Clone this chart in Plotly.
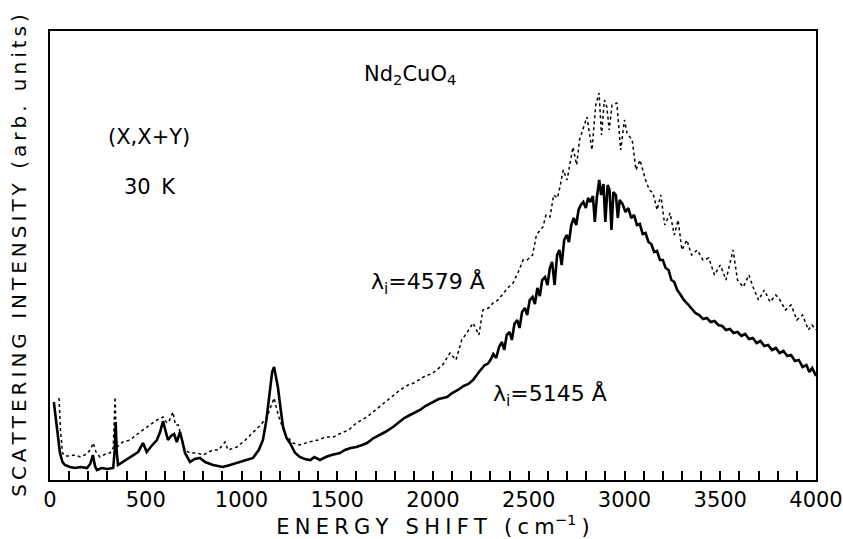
import plotly.graph_objects as go

# ---- data (intensity in arbitrary units) ----
energy_5145 = [20, 35, 52, 65, 78, 104, 130, 160, 193, 210, 224, 235, 245, 270, 300, 330, 338, 343, 348, 355,
               380, 400, 430, 460, 486, 505, 530, 558, 575, 590, 605, 616, 632, 648, 662, 679, 692, 705, 731, 755,
               783, 810, 851, 880, 903, 940, 976, 1020, 1060, 1090, 1112, 1130, 1149, 1160, 1170, 1180, 1190, 1205,
               1217, 1235, 1253, 1280, 1305, 1330, 1360, 1380, 1410, 1440, 1470, 1514, 1540, 1570, 1600, 1630, 1655,
               1690, 1720, 1750, 1791, 1820, 1850, 1880, 1910, 1932, 1960, 2000, 2030, 2073, 2100, 2130, 2160, 2185,
               2209, 2240, 2270, 2285,
               2300, 2315, 2330, 2345, 2360, 2372, 2385, 2400, 2412, 2425, 2440, 2452, 2465, 2480, 2492, 2505, 2520,
               2532, 2545, 2558, 2570, 2585, 2598, 2610, 2622, 2635, 2648, 2660, 2672, 2685, 2698, 2710, 2722, 2735,
               2748, 2760, 2772, 2785, 2798, 2810, 2822, 2835, 2845, 2856, 2868, 2878, 2890, 2900, 2912, 2922, 2932,
               2942, 2955, 2965, 2975, 2990, 3005, 3020, 3035, 3050, 3065, 3080, 3095, 3110, 3125, 3140, 3155, 3170,
               3185, 3200, 3215, 3230, 3245, 3260, 3275, 3290, 3310, 3330, 3350, 3370, 3390, 3410, 3430, 3450, 3470,
               3490, 3510, 3530, 3550, 3570, 3590, 3610, 3630, 3650, 3670, 3690, 3710, 3730, 3750, 3770, 3790, 3810,
               3830, 3850, 3870, 3890, 3910, 3930, 3950, 3965, 3980, 4000]
intensity_5145 = [78, 55, 27, 18, 15, 13, 12, 13, 12, 16, 25, 14, 10, 12, 11, 12, 30, 58, 30, 15,
                  18, 20, 24, 28, 37, 28, 34, 40, 48, 59, 48, 40, 44, 46, 38, 48, 38, 27, 18, 21,
                  22, 18, 15, 14, 13, 15, 17, 20, 22, 30, 40, 60, 93, 108, 113, 104, 93, 70,
                  53, 42, 37, 27, 23, 21, 20, 23, 20, 23, 25, 27, 30, 32, 33, 35, 37,
                  42, 45, 48, 53, 57, 62, 65, 68, 70, 74, 78, 81, 83, 87, 90, 94, 96,
                  100, 108, 115, 116,
                  120, 126, 122, 133, 138, 130, 145, 148, 140, 156, 160, 152, 168, 172, 165, 180, 183,
                  176, 192, 184, 200, 203, 195, 212, 218, 195, 225, 230, 215, 240, 245, 238, 255, 262,
                  255, 270, 275, 278, 272, 282, 278, 284, 258, 283, 300, 285, 296, 258, 295, 290, 250,
                  288, 285, 262, 280, 276, 268, 272, 262, 265, 255, 256, 246, 247, 238, 236, 228, 229,
                  220, 220, 212, 210, 200, 198, 190, 186, 180, 176, 172, 167, 165, 161, 162, 158, 159,
                  155, 154, 150, 151, 147, 148, 144, 146, 141, 142, 137, 139, 134, 135, 130, 132, 127,
                  129, 124, 125, 119, 120, 113, 115, 108, 112, 104]

energy_4579 = [47, 55, 65, 78, 100, 130, 160, 190, 210, 226, 240, 261, 290, 313, 330, 340, 345, 350, 380, 418,
               450, 486, 520, 558, 590, 610, 625, 642, 655, 670, 690, 705, 730, 768, 800, 830, 851, 880, 914, 930,
               976, 1020, 1060, 1100, 1133, 1155, 1170, 1185, 1200, 1230, 1269, 1305, 1350, 1400, 1440, 1480, 1520,
               1560, 1600, 1655, 1700, 1750, 1800, 1828, 1870, 1900, 1950, 2000, 2050, 2089, 2120, 2150, 2180, 2209,
               2240, 2260, 2290, 2313, 2340, 2360, 2390, 2418, 2450, 2470, 2491, 2520, 2540, 2560, 2574, 2590, 2611,
               2630, 2650, 2663, 2680, 2700, 2731, 2750, 2765, 2790, 2804, 2830, 2850, 2867, 2880, 2895, 2908, 2920,
               2935, 2960, 2980, 3000, 3013, 3040, 3060, 3081, 3110, 3130, 3149, 3170, 3190, 3210, 3238, 3260, 3280,
               3300, 3326, 3350, 3380, 3410, 3440, 3470, 3500, 3530, 3567, 3590, 3620, 3650, 3671, 3700, 3730, 3760,
               3790, 3812, 3840, 3870, 3900, 3930, 3960, 3979, 4000]
intensity_4579 = [82, 50, 27, 24, 24, 25, 23, 26, 30, 37, 28, 23, 26, 27, 32, 83, 45, 33, 38, 40,
                  45, 50, 55, 60, 63, 57, 60, 68, 55, 55, 40, 30, 27, 27, 25, 28, 30, 30, 38, 30,
                  33, 40, 47, 55, 63, 75, 82, 70, 60, 45, 37, 35, 38, 40, 43, 43, 47,
                  50, 57, 63, 70, 78, 85, 90, 95, 97, 103, 107, 115, 127, 120, 140, 148, 157,
                  145, 170, 172, 177, 180, 185, 192, 197, 210, 220, 220, 225, 245, 250, 253, 265, 263,
                  285, 282, 293, 310, 300, 333, 315, 340, 355, 363, 330, 375, 387, 345, 380, 373, 350,
                  375, 377, 330, 360, 347, 340, 310, 320, 300, 290, 287, 270, 285, 255, 267, 245, 260,
                  230, 240, 225, 230, 220, 222, 205, 215, 200, 230, 200, 193, 205, 193, 180, 190, 178,
                  185, 180, 170, 175, 160, 165, 150, 155, 150]

x_tick_values = [0, 500, 1000, 1500, 2000, 2500, 3000, 3500, 4000]
x_tick_labels = ["0", "500", "1000", "1500", "2000", "2500", "3000", "3500", "4000"]

x_title_main = "ENERGY SHIFT (cm"
y_title = "SCATTERING INTENSITY (arb. units)"

FONT = "DejaVu Sans"
W, H = 843, 539
ML, MR, MT, MB = 50, 27, 31, 59

def spaced(s, sp):
    return sp.join(list(s))

fig = go.Figure()
fig.add_trace(go.Scatter(x=energy_4579, y=intensity_4579, mode="lines",
                         line=dict(color="black", width=1.5, dash="dot"), showlegend=False))
fig.add_trace(go.Scatter(x=energy_5145, y=intensity_5145, mode="lines",
                         line=dict(color="black", width=2.6), showlegend=False))

xt = spaced(x_title_main, "\u2005") + "<sup>−1</sup>\u2005)"
yt = spaced(y_title, "\u2009")

fig.update_layout(
    width=W, height=H,
    margin=dict(l=ML, r=MR, t=MT, b=MB, autoexpand=False),
    paper_bgcolor="white", plot_bgcolor="white",
    font=dict(family=FONT, color="black"),
    xaxis=dict(range=[0, 4000], showgrid=False, zeroline=False, automargin=False,
               showline=True, mirror=True, linecolor="black", linewidth=2,
               tickvals=x_tick_values, ticktext=x_tick_labels,
               ticks="inside", ticklen=9, tickwidth=2, tickcolor="black",
               minor=dict(dtick=100, ticks="inside", ticklen=9, tickwidth=2, tickcolor="black"),
               tickfont=dict(size=21, family=FONT),
               title=dict(text=xt, font=dict(size=21, family=FONT), standoff=0)),
    yaxis=dict(range=[0, 449], showgrid=False, zeroline=False, automargin=False,
               showline=True, mirror=True, linecolor="black", linewidth=2,
               ticks="", showticklabels=False,
               title=dict(text=yt, font=dict(size=20, family=FONT), standoff=16)),
)

ann = [
    dict(text="Nd<sub>2</sub>CuO<sub>4</sub>", x=410, y=75, size=21),
    dict(text="(X,X+Y)", x=149, y=137, size=21),
    dict(text="30\u2002K", x=150, y=187, size=21),
    dict(text="λ<sub>i</sub>=4579 Å", x=428, y=283, size=22),
    dict(text="λ<sub>i</sub>=5145 Å", x=550, y=395, size=22),
]
PW = W - ML - MR
PH = H - MT - MB
for a in ann:
    fig.add_annotation(text=a["text"], x=(a["x"] - ML) / PW, y=1 - (a["y"] - MT) / PH,
                       xref="paper", yref="paper", showarrow=False,
                       font=dict(size=a["size"], family=FONT, color="black"),
                       xanchor="center", yanchor="middle")

fig.write_html("out.html", config={"displayModeBar": False},
               post_script="document.body.style.margin='0';")
